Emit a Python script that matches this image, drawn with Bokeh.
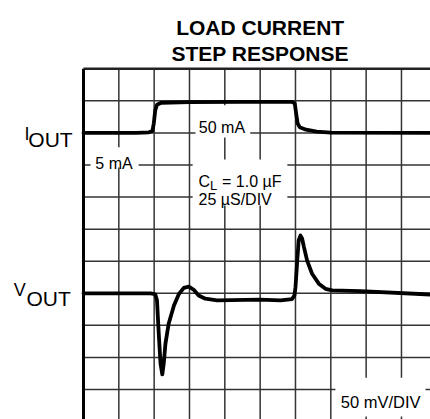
from bokeh.plotting import figure
from bokeh.models import Range1d
from bokeh.core.properties import value
from bokeh.embed import file_html
from bokeh.resources import INLINE

# ---- data (time and amplitude in graticule divisions) ----
x_divs = [1, 2, 3, 4, 5, 6, 7, 8, 9]
y_divs = [0, 1, 2, 3, 4, 5, 6, 7, 8, 9]

iout_t = [0.0, 1.5, 1.85, 1.95, 1.99, 2.03, 2.08, 2.2, 3.0, 4.5, 5.9, 5.98,
          6.02, 6.06, 6.12, 6.3, 6.6, 7.0, 9.85]
iout_v = [8.0, 8.0, 8.02, 8.06, 8.3, 8.7, 8.88, 8.94, 8.96, 8.97, 8.97, 8.92,
          8.6, 8.3, 8.18, 8.1, 8.04, 8.01, 8.0]

vout_t = [0.0, 1.9, 2.03, 2.08, 2.13, 2.18, 2.23, 2.27, 2.32, 2.41, 2.56, 2.70,
          2.84, 2.98, 3.12, 3.26, 3.45, 3.78, 4.99, 5.58, 5.9, 5.97, 6.0,
          6.05, 6.09, 6.14, 6.19, 6.24, 6.33, 6.47, 6.66, 6.85, 7.04, 7.84, 9.85]
vout_v = [3.0, 3.0, 2.97, 2.78, 1.74, 0.81, 0.47, 0.80, 1.43, 2.05, 2.62, 2.98,
          3.17, 3.21, 3.11, 2.93, 2.83, 2.78, 2.80, 2.78, 2.82, 2.93, 3.19,
          4.02, 4.65, 4.80, 4.70, 4.44, 4.02, 3.61, 3.30, 3.14, 3.09, 3.07, 2.96]

# ---- layout ----
PX_X = 35.33   # pixels per horizontal division
PX_Y = 32.07   # pixels per vertical division
W, H = 430, 419
LEFT, TOP = 83.0, 68.3
xr0 = -LEFT / PX_X
xr1 = (W - LEFT) / PX_X
yr1 = 10 + TOP / PX_Y
yr0 = yr1 - H / PX_Y

p = figure(width=W, height=H, x_range=Range1d(xr0, xr1), y_range=Range1d(yr0, yr1),
           output_backend="svg", toolbar_location=None, x_axis_type=None,
           y_axis_type=None, min_border=0, outline_line_color=None,
           background_fill_color="white", border_fill_color="white")
p.grid.visible = False

FONT = value("Liberation Sans")
GRID = "#333333"

# graticule
p.segment(x0=x_divs, y0=[yr0] * len(x_divs), x1=x_divs, y1=[10] * len(x_divs),
          line_color=GRID, line_width=1.5)
p.segment(x0=[0] * len(y_divs), y0=y_divs, x1=[xr1] * len(y_divs), y1=y_divs,
          line_color=GRID, line_width=1.5)
# border (top and left)
p.segment(x0=[0], y0=[10], x1=[xr1], y1=[10], line_color="#222222", line_width=2.5)
p.segment(x0=[0], y0=[yr0], x1=[0], y1=[10], line_color="black", line_width=3)

# white label boxes
p.quad(left=[3.17, 0.20, 3.09, 7.13], right=[4.72, 1.56, 5.77, 9.68],
       top=[8.86, 7.55, 7.17, 0.37], bottom=[7.86, 6.92, 5.74, -0.84],
       fill_color="white", line_color=None)

# traces
p.line(iout_t, iout_v, line_color="black", line_width=3.8,
       line_join="round", line_cap="round")
p.line(vout_t, vout_v, line_color="black", line_width=3.8,
       line_join="round", line_cap="round")

# title
p.text(x=[5.0, 5.0], y=[11.297, 10.468], text=["LOAD CURRENT", "STEP RESPONSE"],
       text_font=FONT, text_font_style="bold", text_font_size="21px",
       text_align="center", text_baseline="alphabetic", text_color="black")

# panel labels
p.text(x=[3.92], y=[8.17], text=["50 mA"], text_font=FONT, text_font_size="16px",
       text_align="center", text_baseline="alphabetic")
p.text(x=[0.863], y=[7.05], text=["5 mA"], text_font=FONT, text_font_size="16px",
       text_align="center", text_baseline="alphabetic")
p.text(x=[3.255], y=[6.49], text=["C"], text_font=FONT, text_font_size="16px",
       text_align="left", text_baseline="alphabetic")
p.text(x=[3.255], y=[6.49], text=["L"], x_offset=11.5, y_offset=4,
       text_font=FONT, text_font_size="13px",
       text_align="left", text_baseline="alphabetic")
p.text(x=[3.255], y=[6.49], text=["= 1.0 \u00b5F"], x_offset=23.5,
       text_font=FONT, text_font_size="16px",
       text_align="left", text_baseline="alphabetic")
p.text(x=[3.255], y=[5.93], text=["25 \u00b5S/DIV"], text_font=FONT,
       text_font_size="16px", text_align="left", text_baseline="alphabetic")
p.text(x=[8.41], y=[-0.40], text=["50 mV/DIV"], text_font=FONT,
       text_font_size="16.5px", text_align="center", text_baseline="alphabetic")

# channel names
p.text(x=[0], y=[7.98], text=["I"], x_offset=-54, text_font=FONT,
       text_font_size="18px", text_align="right", text_baseline="alphabetic")
p.text(x=[0], y=[7.795], text=["OUT"], x_offset=-10.8, text_font=FONT,
       text_font_size="21px", text_align="right", text_baseline="alphabetic")
p.text(x=[0], y=[3.09], text=["V"], x_offset=-57.7, text_font=FONT,
       text_font_size="18px", text_align="right", text_baseline="alphabetic")
p.text(x=[0], y=[2.83], text=["OUT"], x_offset=-12.7, text_font=FONT,
       text_font_size="21px", text_align="right", text_baseline="alphabetic")

open("out.html", "w").write(file_html(p, INLINE))
